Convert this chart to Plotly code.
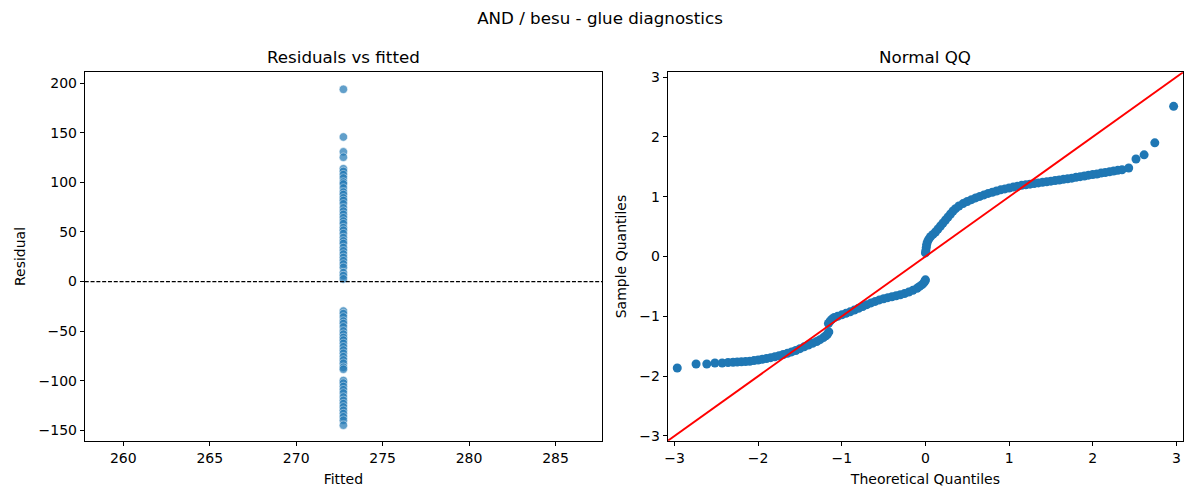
import plotly.graph_objects as go

# ---- data ----
FITTED_VALUE = 272.73
residuals = [
    193.7, 145.7, 130.7, 125.3, 113.7, 111.0, 107.7, 104.3, 100.3, 98.3,
    94.3, 90.3, 87.7, 84.3, 81.7, 78.3, 74.3, 71.0, 67.7, 64.3,
    61.0, 58.3, 54.3, 51.7, 48.3, 44.3, 41.0, 38.3, 34.3, 31.0,
    27.7, 24.3, 21.0, 17.7, 14.3, 9.0, 6.0, 2.7,
    -29.7, -32.3, -35.7, -39.7, -42.3, -45.7, -49.7, -53.0, -56.3, -59.0,
    -62.3, -65.7, -69.0, -72.3, -75.7, -79.0, -82.3, -86.3, -88.3,
    -99.7, -102.3, -105.7, -109.0, -112.3, -116.3, -119.7, -123.0, -126.3,
    -129.7, -133.0, -136.3, -139.7, -144.7,
]
fitted = [FITTED_VALUE] * len(residuals)

theoretical_q = [
    -2.967, -2.742, -2.614, -2.517, -2.43, -2.36, -2.30, -2.25, -2.20, -2.15,
    -2.10, -2.05, -2.00, -1.95, -1.90, -1.85, -1.80, -1.75, -1.70, -1.65,
    -1.60, -1.55, -1.50, -1.45, -1.40, -1.35, -1.30, -1.26, -1.22, -1.19,
    -1.17, -1.155,
    -1.16, -1.14, -1.12, -1.09, -1.05, -1.00, -0.95, -0.90, -0.85, -0.80,
    -0.75, -0.70, -0.65, -0.60, -0.55, -0.50, -0.45, -0.40, -0.35, -0.30,
    -0.25, -0.20, -0.15, -0.10, -0.07, -0.04, -0.02, -0.005, 0.0,
    0.0, 0.005, 0.01, 0.015, 0.025, 0.04, 0.06, 0.09, 0.12, 0.15,
    0.18, 0.21, 0.24, 0.27, 0.30, 0.33, 0.36, 0.40, 0.45, 0.50,
    0.55, 0.60, 0.65, 0.70, 0.75, 0.80, 0.85, 0.90, 0.95, 1.00,
    1.05, 1.10, 1.15, 1.20, 1.25, 1.30, 1.35, 1.40, 1.45, 1.50,
    1.55, 1.60, 1.65, 1.70, 1.75, 1.80, 1.85, 1.90, 1.95, 2.00,
    2.05, 2.10, 2.15, 2.20, 2.25, 2.30, 2.35, 2.43, 2.517, 2.614,
    2.742, 2.967,
]
sample_q = [
    -1.864, -1.797, -1.797, -1.780, -1.780, -1.772, -1.768, -1.765, -1.760, -1.756,
    -1.750, -1.740, -1.730, -1.718, -1.705, -1.690, -1.675, -1.658, -1.638, -1.618,
    -1.595, -1.570, -1.540, -1.510, -1.480, -1.450, -1.420, -1.390, -1.355, -1.325,
    -1.295, -1.260,
    -1.120, -1.080, -1.050, -1.020, -1.000, -0.975, -0.950, -0.925, -0.895, -0.865,
    -0.835, -0.805, -0.775, -0.750, -0.725, -0.705, -0.688, -0.672, -0.655, -0.640,
    -0.620, -0.595, -0.565, -0.530, -0.500, -0.470, -0.440, -0.410, -0.390,
    0.06, 0.10, 0.15, 0.20, 0.25, 0.29, 0.33, 0.37, 0.41, 0.46,
    0.51, 0.56, 0.61, 0.66, 0.71, 0.76, 0.80, 0.845, 0.885, 0.92,
    0.95, 0.98, 1.005, 1.03, 1.055, 1.075, 1.095, 1.115, 1.13, 1.145,
    1.16, 1.175, 1.19, 1.20, 1.21, 1.22, 1.23, 1.24, 1.25, 1.26,
    1.27, 1.28, 1.29, 1.30, 1.31, 1.325, 1.335, 1.345, 1.36, 1.37,
    1.38, 1.395, 1.405, 1.415, 1.43, 1.44, 1.45, 1.48, 1.63, 1.70,
    1.90, 2.51,
]
qq_limits = [-3.08, 3.08]

left_xticks = [260, 265, 270, 275, 280, 285]
left_yticks = [-150, -100, -50, 0, 50, 100, 150, 200]
qq_ticks = [-3, -2, -1, 0, 1, 2, 3]

FONT = "DejaVu Sans"
W, H = 1200, 500
OFF = 8  # page body margin: figure origin sits at (8, 8) in the window


def fx(px):
    return (px - OFF) / W


def fy(py):
    return 1 - (py - OFF) / H


fig = go.Figure()

# residuals vs fitted
fig.add_trace(go.Scatter(
    x=fitted, y=residuals, mode="markers",
    marker=dict(color="#1f77b4", size=8.5, opacity=0.7,
                line=dict(color="white", width=0.6)),
    xaxis="x", yaxis="y", showlegend=False,
))

# QQ points + 45 degree line
fig.add_trace(go.Scatter(
    x=theoretical_q, y=sample_q, mode="markers",
    marker=dict(color="#1f77b4", size=9),
    xaxis="x2", yaxis="y2", showlegend=False,
))
fig.add_trace(go.Scatter(
    x=qq_limits, y=qq_limits, mode="lines",
    line=dict(color="red", width=1.9),
    xaxis="x2", yaxis="y2", showlegend=False,
))

# dashed zero line on the left panel
fig.add_shape(type="line", xref="x domain", yref="y",
              x0=0, x1=1, y0=0, y1=0,
              line=dict(color="black", width=1.1, dash="4px,1.8px"))

axis_common = dict(
    showline=True, mirror=True, linecolor="black", linewidth=1,
    ticks="outside", ticklen=4, tickcolor="black",
    showgrid=False, zeroline=False,
    tickfont=dict(size=14, color="black", family=FONT),
)

ydom = [fy(443), fy(70)]
title_font = dict(size=14, family=FONT, color="black")

fig.update_layout(
    width=W, height=H,
    margin=dict(l=0, r=0, t=0, b=0),
    paper_bgcolor="white", plot_bgcolor="white",
    font=dict(family=FONT, color="black"),
    title=dict(text="AND / besu - glue diagnostics", x=fx(600), xanchor="center",
               y=fy(18), yanchor="middle",
               font=dict(size=16.7, color="black", family=FONT)),
    xaxis=dict(domain=[fx(81), fx(600)], range=[257.77, 287.69],
               tickvals=left_xticks, anchor="y",
               title=dict(text="Fitted", standoff=9, font=title_font),
               **axis_common),
    yaxis=dict(domain=ydom, range=[-160.4, 210.9],
               tickvals=left_yticks, anchor="x",
               title=dict(text="Residual", standoff=9, font=title_font),
               **axis_common),
    xaxis2=dict(domain=[fx(666), fx(1183)], range=qq_limits,
                tickvals=qq_ticks, anchor="y2",
                title=dict(text="Theoretical Quantiles", standoff=9, font=title_font),
                **axis_common),
    yaxis2=dict(domain=ydom, range=qq_limits,
                tickvals=qq_ticks, anchor="x2",
                title=dict(text="Sample Quantiles", standoff=9, font=title_font),
                **axis_common),
    annotations=[
        dict(text="Residuals vs fitted", x=0.5, xref="x domain", y=1,
             yref="y domain", yanchor="bottom", yshift=3, showarrow=False,
             font=dict(size=16.7, color="black", family=FONT)),
        dict(text="Normal QQ", x=0.5, xref="x2 domain", y=1,
             yref="y2 domain", yanchor="bottom", yshift=3, showarrow=False,
             font=dict(size=16.7, color="black", family=FONT)),
    ],
)

fig.write_html("out.html")
